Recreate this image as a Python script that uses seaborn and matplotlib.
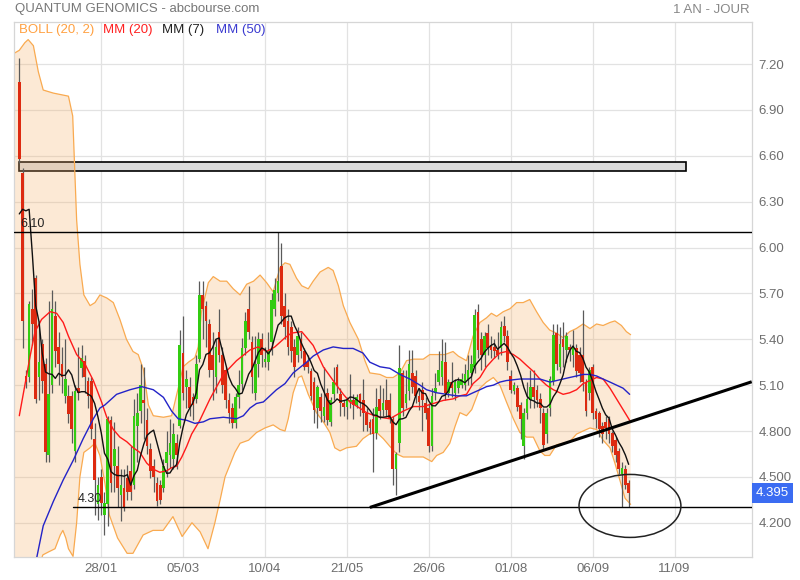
import numpy as np
import pandas as pd
import matplotlib
matplotlib.use("Agg")
import matplotlib.pyplot as plt
import seaborn as sns
from matplotlib.patches import Rectangle, Ellipse

# daily candles (index = trading day)
opens = [7.08, 6.49, 5.16, 5.15, 5.60, 5.80, 5.15, 5.37, 5.24, 4.64,
         5.10, 5.55, 5.35, 5.24, 5.03, 5.03, 5.03, 4.67, 5.08, 5.21,
         5.26, 5.13, 5.13, 4.75, 4.32, 4.50, 4.25, 4.32, 4.87, 4.57,
         4.57, 4.38, 4.43, 4.49, 4.54, 4.45, 4.83, 4.93, 5.00, 4.87,
         4.68, 4.57, 4.46, 4.45, 4.43, 4.59, 4.64, 4.62, 4.72, 4.83,
         5.31, 5.09, 5.09, 5.02, 5.01, 5.27, 5.69, 5.62, 5.50, 5.30,
         5.15, 5.45, 5.30, 5.20, 5.00, 4.95, 4.85, 5.02, 5.11, 5.34,
         5.60, 5.38, 5.05, 5.24, 5.40, 5.25, 5.25, 5.38, 5.60, 5.70,
         5.88, 5.62, 5.52, 5.48, 5.35, 5.30, 5.40, 5.32, 5.25, 5.19,
         5.12, 4.95, 5.02, 4.90, 5.05, 4.86, 5.04, 5.22, 5.04, 4.98,
         4.96, 4.99, 5.00, 4.97, 5.04, 5.00, 4.92, 4.86, 4.88, 4.79,
         5.01, 4.94, 5.00, 5.00, 4.88, 4.55, 4.72, 5.18, 4.98, 5.06,
         5.18, 5.16, 5.03, 5.07, 4.98, 4.95, 4.70, 5.05, 5.12, 5.15,
         5.25, 5.05, 5.12, 5.05, 5.08, 5.10, 5.10, 5.14, 5.18, 5.22,
         5.58, 5.40, 5.30, 5.44, 5.36, 5.35, 5.33, 5.34, 5.49, 5.42,
         5.16, 5.06, 5.08, 4.97, 4.70, 4.92, 5.00, 5.09, 5.07, 5.01,
         4.92, 4.78, 4.95, 5.13, 5.44, 5.22, 5.40, 5.33, 5.35, 5.30,
         5.34, 5.30, 5.30, 5.12, 5.05, 5.22, 4.93, 4.92, 4.83, 4.86,
         4.88, 4.79, 4.74, 4.67, 4.52, 4.55, 4.46]
highs = [7.24, 6.52, 5.20, 5.65, 5.73, 5.82, 5.52, 5.40, 5.28, 5.65,
         5.72, 5.65, 5.45, 5.35, 5.40, 5.10, 5.06, 5.10, 5.35, 5.36,
         5.30, 5.15, 5.15, 4.85, 4.50, 4.55, 4.40, 4.90, 4.90, 4.86,
         4.70, 4.55, 4.55, 4.58, 4.70, 5.01, 5.05, 5.24, 5.22, 4.95,
         4.72, 4.62, 4.50, 4.48, 4.62, 4.80, 4.88, 4.85, 4.78, 5.46,
         5.55, 5.20, 5.15, 5.05, 5.30, 5.78, 5.78, 5.65, 5.53, 5.45,
         5.40, 5.60, 5.35, 5.22, 5.05, 4.98, 5.05, 5.20, 5.41, 5.58,
         5.75, 5.42, 5.42, 5.45, 5.44, 5.35, 5.45, 5.70, 5.80, 6.10,
         6.03, 5.70, 5.60, 5.52, 5.40, 5.48, 5.45, 5.34, 5.30, 5.21,
         5.15, 5.10, 5.05, 5.22, 5.08, 5.02, 5.22, 5.24, 5.08, 5.00,
         5.02, 5.17, 5.04, 5.04, 5.05, 5.14, 4.95, 4.88, 4.95, 5.08,
         5.10, 5.08, 5.14, 5.05, 4.90, 4.66, 5.36, 5.20, 5.20, 5.33,
         5.33, 5.20, 5.08, 5.12, 5.02, 4.98, 5.08, 5.18, 5.32, 5.40,
         5.38, 5.14, 5.25, 5.14, 5.15, 5.18, 5.24, 5.30, 5.30, 5.60,
         5.63, 5.45, 5.45, 5.50, 5.42, 5.40, 5.45, 5.52, 5.55, 5.46,
         5.20, 5.12, 5.10, 4.99, 4.95, 5.12, 5.20, 5.20, 5.10, 5.05,
         4.95, 4.95, 5.16, 5.50, 5.50, 5.48, 5.51, 5.45, 5.37, 5.46,
         5.37, 5.35, 5.59, 5.14, 5.22, 5.24, 4.95, 4.93, 4.86, 4.90,
         4.90, 4.80, 4.76, 4.69, 4.60, 4.58, 4.48]
lows = [6.55, 5.34, 5.08, 5.12, 5.36, 4.98, 5.00, 5.05, 4.60, 4.60,
        5.05, 5.22, 5.10, 5.05, 4.98, 4.85, 4.72, 4.60, 5.00, 5.15,
        5.05, 4.95, 4.75, 4.25, 4.22, 4.25, 4.12, 4.18, 4.40, 4.40,
        4.30, 4.21, 4.28, 4.35, 4.35, 4.42, 4.60, 4.85, 4.75, 4.65,
        4.49, 4.40, 4.31, 4.32, 4.40, 4.50, 4.56, 4.55, 4.55, 4.82,
        5.00, 4.95, 4.90, 4.87, 4.98, 5.25, 5.40, 5.35, 5.15, 5.00,
        5.05, 5.25, 5.05, 4.95, 4.85, 4.82, 4.82, 4.95, 5.07, 5.30,
        5.40, 5.05, 5.00, 5.15, 5.22, 5.22, 5.20, 5.30, 5.55, 5.65,
        5.50, 5.40, 5.30, 5.25, 5.15, 5.25, 5.28, 5.20, 5.18, 5.00,
        4.85, 4.82, 4.86, 4.86, 4.84, 4.83, 5.00, 5.05, 4.90, 4.90,
        4.88, 4.95, 4.88, 4.95, 4.90, 4.80, 4.80, 4.78, 4.53, 4.75,
        4.88, 4.90, 4.90, 4.85, 4.45, 4.38, 4.66, 4.90, 4.95, 5.00,
        5.05, 4.98, 4.94, 4.80, 4.88, 4.66, 4.67, 5.00, 5.10, 5.10,
        5.00, 5.02, 5.02, 5.00, 5.05, 5.08, 5.07, 5.10, 5.10, 5.18,
        5.28, 5.20, 5.22, 5.30, 5.28, 5.28, 5.27, 5.30, 5.38, 5.20,
        5.05, 5.04, 4.93, 4.75, 4.62, 4.88, 4.95, 4.95, 4.96, 4.85,
        4.68, 4.72, 4.90, 5.10, 5.20, 5.18, 5.22, 5.25, 5.26, 5.22,
        5.15, 5.12, 5.06, 4.90, 5.00, 4.88, 4.82, 4.76, 4.72, 4.75,
        4.72, 4.66, 4.60, 4.52, 4.30, 4.42, 4.30]
closes = [6.58, 5.52, 5.12, 5.63, 5.50, 5.01, 5.25, 5.13, 4.66, 5.04,
          5.60, 5.32, 5.24, 5.15, 5.14, 4.91, 4.81, 5.06, 5.05, 5.28,
          5.15, 5.03, 4.81, 4.48, 4.45, 4.33, 4.33, 4.88, 4.46, 4.68,
          4.43, 4.45, 4.30, 4.40, 4.40, 4.90, 4.92, 5.10, 4.98, 4.70,
          4.54, 4.50, 4.34, 4.35, 4.57, 4.66, 4.72, 4.78, 4.64, 5.36,
          5.05, 5.14, 4.95, 4.97, 5.24, 5.69, 5.60, 5.52, 5.20, 5.20,
          5.35, 5.30, 5.10, 5.00, 4.92, 4.85, 5.02, 5.10, 5.34, 5.52,
          5.45, 5.15, 5.24, 5.40, 5.30, 5.27, 5.32, 5.66, 5.72, 5.78,
          5.55, 5.48, 5.35, 5.32, 5.22, 5.42, 5.32, 5.22, 5.22, 5.03,
          4.94, 5.09, 4.93, 4.96, 4.87, 5.00, 5.12, 5.10, 4.98, 4.96,
          5.00, 5.00, 4.97, 5.02, 4.98, 4.92, 4.84, 4.82, 4.78, 4.96,
          4.93, 4.98, 4.94, 4.88, 4.55, 4.65, 5.21, 4.95, 5.04, 5.24,
          5.09, 5.03, 4.99, 5.00, 4.92, 4.70, 5.03, 5.08, 5.20, 5.26,
          5.05, 5.12, 5.08, 5.12, 5.13, 5.14, 5.17, 5.20, 5.24, 5.56,
          5.33, 5.30, 5.42, 5.34, 5.33, 5.32, 5.30, 5.48, 5.42, 5.25,
          5.07, 5.10, 4.96, 4.88, 4.92, 5.01, 5.09, 5.02, 5.00, 4.95,
          4.71, 4.92, 5.14, 5.43, 5.24, 5.37, 5.35, 5.42, 5.33, 5.35,
          5.19, 5.18, 5.12, 4.93, 5.20, 4.92, 4.88, 4.81, 4.78, 4.82,
          4.78, 4.70, 4.64, 4.55, 4.56, 4.45, 4.395]
mm7_head = [6.22, 6.25, 6.24, 6.25, 5.95, 5.62]

# indicator curves (day index, value)
boll_up_i = [-1.6, 0, 1.7, 2.7, 4.3, 5.8, 7.3, 10.4, 15, 16.3, 17.5, 18.5, 19.7, 21.6, 23.1,
             24.6, 26.7, 28.7, 30.7, 32.7, 34.7, 36.3, 37.9, 39.4, 40.9, 44, 46.5, 48.5, 50,
             51.6, 53.6, 54.6, 55.6, 57.7, 59.2, 61.3, 63.3, 65.3, 67.4, 69.4, 71.5, 73.5,
             75.5, 77.5, 79.6, 81.1, 82.6, 84.6, 86.2, 88.2, 89.7, 91.8, 94.3, 95.8, 97.4,
             98.9, 100.9, 103.5, 105.5, 107, 110.1, 112.1, 114.1, 116.2, 118.2, 120.3, 123.3,
             125.3, 127.4, 129.9, 132.4, 134, 136.5, 138.5, 140.6, 142.6, 144.1, 145.7, 147.7,
             149.8, 151.8, 153.8, 155.8, 157.9, 159.9, 161.9, 164, 166, 168, 170, 172.1,
             174.2, 176.2, 178.2, 180.3, 181.8, 183.8, 185.3, 186.6]
boll_up = [7.27, 7.29, 7.34, 7.36, 7.32, 7.15, 7.03, 7.01, 6.99, 6.86, 6.18, 5.89, 5.69, 5.62, 5.64,
           5.69, 5.67, 5.64, 5.53, 5.40, 5.32, 5.30, 5.20, 4.97, 4.90, 4.89, 4.90, 5.08, 5.22,
           5.25, 5.28, 5.35, 5.58, 5.77, 5.81, 5.78, 5.78, 5.73, 5.69, 5.76, 5.78, 5.82,
           5.77, 5.71, 5.87, 5.90, 5.89, 5.80, 5.75, 5.73, 5.78, 5.84, 5.87, 5.85, 5.75,
           5.62, 5.51, 5.40, 5.26, 5.18, 5.17, 5.15, 5.15, 5.18, 5.26, 5.27, 5.27,
           5.30, 5.30, 5.30, 5.32, 5.29, 5.26, 5.42, 5.51, 5.54, 5.57, 5.55, 5.58,
           5.60, 5.64, 5.64, 5.66, 5.58, 5.51, 5.46, 5.44, 5.41, 5.45, 5.47, 5.50,
           5.47, 5.50, 5.49, 5.51, 5.52, 5.49, 5.45, 5.43]
boll_low_i = [-1.6, 3, 6, 7.2, 9, 10.9, 12.5, 13.3, 14.2, 15, 16.4, 17.5, 18.5, 19.7, 21.6, 23.1,
              24.6, 26.2, 27.5, 30, 32.9, 34.7, 37.8, 40.8, 43.9, 46.9, 49.7, 52.7, 55.2, 57.6,
              59.7, 61.3, 62.8, 64.3, 65.8, 67.4, 70, 72.4, 75, 77.5, 79.6, 81.1, 82.1, 83.6,
              85.2, 86.2, 88.2, 90.7, 92.8, 94.8, 96.3, 97.9, 99.9, 102.9, 104.9, 106.9, 109.1,
              111.1, 113.1, 115.2, 117.2, 120.3, 123.3, 125.9, 127.4, 129.4, 131.4, 133, 134.5,
              136.5, 138.1, 140.6, 142.6, 144.7, 146.7, 148.7, 150.8, 152.8, 154.8, 156.9,
              158.9, 160.4, 161.9, 164, 166, 168, 170.1, 172.1, 174.2, 176.2, 178.2, 180.3,
              181.8, 183.3, 184.9, 186.6]
boll_low = [3.70, 3.80, 3.92, 3.99, 4.01, 4.03, 4.12, 4.15, 4.10, 4.03, 3.98, 4.20, 4.50, 4.66, 4.69, 4.72,
            4.64, 4.45, 4.25, 4.10, 4.00, 4.00, 4.12, 4.15, 4.15, 4.24, 4.11, 4.20, 4.14, 4.03,
            4.20, 4.35, 4.50, 4.58, 4.66, 4.72, 4.74, 4.79, 4.82, 4.84, 4.81, 4.80, 4.88, 5.05,
            5.15, 5.16, 5.04, 4.92, 4.86, 4.79, 4.69, 4.67, 4.69, 4.70, 4.75, 4.78, 4.79,
            4.75, 4.70, 4.65, 4.63, 4.63, 4.63, 4.60, 4.64, 4.66, 4.72, 4.83, 4.92,
            4.90, 4.94, 5.08, 5.12, 5.15, 5.10, 4.99, 4.88, 4.79, 4.76, 4.76,
            4.67, 4.64, 4.64, 4.71, 4.72, 4.73, 4.78, 4.80, 4.82, 4.81, 4.74, 4.69,
            4.59, 4.48, 4.36, 4.32]
mm20_i = [0, 1.7, 3.3, 4.8, 6.8, 9.4, 11.4, 13.4, 15, 17.5, 20, 22.6, 25.1, 26.7, 28.7, 30.7,
          32.8, 34.8, 36.8, 38.9, 40.9, 42.9, 45, 46.5, 48, 49.6, 51.1, 52.6, 55.1, 58.2, 62.3,
          66.3, 70.4, 72.9, 75.5, 78, 81.1, 83, 86.2, 89.7, 92.8, 95.8, 98.9, 100.9, 103.9,
          106, 108.5, 110.1, 113.1, 117.2, 120.3, 123.3, 126.4, 129.4, 132.4, 134.5, 136.5,
          138.5, 140.6, 142.6, 144.7, 146.7, 148.7, 150.8, 152.8, 154.8, 156.9, 158.9, 160.9,
          163, 166, 168, 170.1, 172.1, 174.2, 176.2, 178.2, 180.3, 182.3, 184.3, 186.3]
mm20 = [4.90, 5.10, 5.29, 5.45, 5.53, 5.58, 5.57, 5.51, 5.42, 5.30, 5.24, 5.13, 4.99, 4.89, 4.81, 4.76,
        4.73, 4.69, 4.66, 4.59, 4.55, 4.53, 4.54, 4.56, 4.57, 4.63, 4.70, 4.78, 4.87, 5.01, 5.17,
        5.26, 5.33, 5.35, 5.32, 5.35, 5.41, 5.44, 5.45, 5.36, 5.22, 5.13, 5.04, 4.99, 4.95,
        4.92, 4.90, 4.89, 4.88, 4.93, 4.96, 4.96, 4.98, 5.00, 5.01, 5.03, 5.04,
        5.11, 5.15, 5.22, 5.27, 5.31, 5.32, 5.30, 5.27, 5.23, 5.19, 5.14, 5.10,
        5.07, 5.04, 5.05, 5.07, 5.11, 5.13, 5.15, 5.14, 5.08, 5.01, 4.94, 4.87]
mm50_i = [0, 5.3, 7.3, 10.4, 13.4, 16.5, 19.5, 22.6, 24.6, 26.1, 29.7, 33.8, 37.4, 40.9, 44, 46.5,
          48.5, 51.1, 53.6, 56.2, 58.2, 62.3, 66.3, 68.4, 70.4, 72.4, 74.5, 76.5, 78.5, 81.1,
          83.6, 87.7, 89.7, 92.8, 95.8, 98.9, 101.9, 104.9, 107, 110.1, 113.1, 116.2, 119.2,
          122.3, 124.3, 127.4, 130.4, 133.5, 136.5, 138.5, 140.6, 142.6, 144.7, 146.7, 148.7,
          152.8, 158.9, 162, 164, 166, 168, 170.1, 172.1, 174.2, 176.2, 178.2, 180.3, 182.3,
          184.3, 186.3]
mm50 = [3.55, 3.97, 4.18, 4.34, 4.48, 4.61, 4.75, 4.88, 4.95, 4.97, 5.04, 5.07, 5.09, 5.07, 5.02, 4.93,
        4.88, 4.87, 4.85, 4.86, 4.88, 4.89, 4.88, 4.90, 4.95, 4.98, 4.99, 5.03, 5.07, 5.11,
        5.18, 5.25, 5.29, 5.33, 5.35, 5.34, 5.34, 5.31, 5.25, 5.22, 5.21, 5.17, 5.14,
        5.10, 5.07, 5.05, 5.04, 5.03, 5.03, 5.05, 5.07, 5.09, 5.10, 5.12, 5.13,
        5.14, 5.14, 5.12, 5.13, 5.14, 5.15, 5.16, 5.17, 5.17, 5.16, 5.14, 5.12, 5.10,
        5.08, 5.04]

tick_pos = [25, 50, 75, 100, 125, 150, 175, 200]
tick_labels = ['28/01', '05/03', '10/04', '21/05', '26/06', '01/08', '06/09', '11/09']
ytick_vals = [7.20, 6.90, 6.60, 6.30, 6.00, 5.70, 5.40, 5.10, 4.80, 4.50, 4.20]
ytick_labels = ['7.20', '6.90', '6.60', '6.30', '6.00', '5.70', '5.40', '5.10', '4.800', '4.500', '4.200']

sns.set_theme(style="white")
plt.rcParams['font.family'] = ['Liberation Sans', 'DejaVu Sans']

df = pd.DataFrame({'open': opens, 'high': highs, 'low': lows, 'close': closes})
df['day'] = np.arange(len(df))
mm7 = df['close'].rolling(7).mean()
mm7.iloc[:len(mm7_head)] = mm7_head
df['mm7'] = mm7

fig = plt.figure(figsize=(8, 5.8), dpi=100)
ax = fig.add_axes([14 / 800, 22.7 / 580, 737.7 / 800, 535.6 / 580])
ax.set_xlim(-1.62, 223.56)
ax.set_ylim(3.974, 7.477)

ax.set_axisbelow(True)
ax.grid(True, color='#e2e2e2', lw=0.9)
for s in ax.spines.values():
    s.set_color('#d6d6d6')
    s.set_linewidth(0.9)

# resistance box
ax.add_patch(Rectangle((0, 6.50), 203.5, 0.06, facecolor='#dcdcdc', edgecolor='black',
                       lw=1.2, zorder=1))

# bollinger band
ax.fill(np.r_[boll_up_i, boll_low_i[::-1]], np.r_[boll_up, boll_low[::-1]],
        color='#f5b06a', alpha=0.28, lw=0, zorder=1.5)
ax.plot(boll_up_i, boll_up, color='#f9aa50', lw=0.9, zorder=2)
ax.plot(boll_low_i, boll_low, color='#f9aa50', lw=0.9, zorder=2)

# candles
up = df['close'] >= df['open']
ax.vlines(df['day'], df['low'], df['high'], color='#5a5a5a', lw=0.9, zorder=3)
body = (df['close'] - df['open']).abs().clip(lower=0.012)
ax.bar(df['day'], body, bottom=df[['open', 'close']].min(axis=1), width=0.82,
       color=np.where(up, '#33cc11', '#dd2a10'), lw=0, zorder=3.5)

# moving averages
sns.lineplot(x=mm20_i, y=mm20, ax=ax, color='#ff1a1a', lw=1.0, sort=False, zorder=4)
sns.lineplot(x=mm50_i, y=mm50, ax=ax, color='#2323c8', lw=1.0, sort=False, zorder=4)
sns.lineplot(data=df, x='day', y='mm7', ax=ax, color='#111111', lw=1.0, zorder=4.5)

# drawn levels
ax.axhline(6.10, color='black', lw=1.0, zorder=5)
ax.text(0.2, 6.115, '6.10', fontsize=9, color='#222222', va='bottom', zorder=6)
ax.plot([16.5, 223.56], [4.30, 4.30], color='black', lw=1.0, zorder=5)
ax.text(17.9, 4.315, '4.30', fontsize=9, color='#222222', va='bottom', zorder=6)
ax.plot([107, 223.56], [4.30, 5.122], color='black', lw=2.2, zorder=5, solid_capstyle='butt')
ax.add_patch(Ellipse((186.4, 4.31), 31.1, 0.412, fill=False, edgecolor='#222222', lw=1.1, zorder=5))

ax.set_xticks(tick_pos)
ax.set_xticklabels(tick_labels)
ax.set_yticks(ytick_vals)
ax.set_yticklabels(ytick_labels)
ax.yaxis.tick_right()
ax.tick_params(axis='both', length=0, labelsize=9.5, colors='#6e6e6e')
ax.tick_params(axis='y', pad=5)
ax.tick_params(axis='x', pad=4)
ax.set_xlabel('')
ax.set_ylabel('')

# last price tag
ax.annotate(f'{closes[-1]:.3f}', xy=(1.0, closes[-1]), xycoords=ax.get_yaxis_transform(),
            xytext=(3, 0), textcoords='offset points', ha='left', va='center',
            fontsize=9.5, color='white', annotation_clip=False,
            bbox=dict(boxstyle='square,pad=0.3', fc='#3b6cf2', ec='none'))

# header texts
fig.text(15 / 800, 1 - 9 / 580, 'QUANTUM GENOMICS - abcbourse.com', fontsize=9.5,
         color='#777777', va='center', ha='left')
fig.text(750 / 800, 1 - 10 / 580, '1 AN - JOUR', fontsize=9.5, color='#888888',
         va='center', ha='right')
legend_items = [(19, 'BOLL (20, 2)', '#ffa040'), (103, 'MM (20)', '#ff2020'),
                (162, 'MM (7)', '#222222'), (216, 'MM (50)', '#3a3ad0')]
for px, txt, col in legend_items:
    fig.text(px / 800, 1 - 29.5 / 580, txt, fontsize=9.5, color=col, va='center', ha='left')

fig.savefig('out.png', dpi=100)
